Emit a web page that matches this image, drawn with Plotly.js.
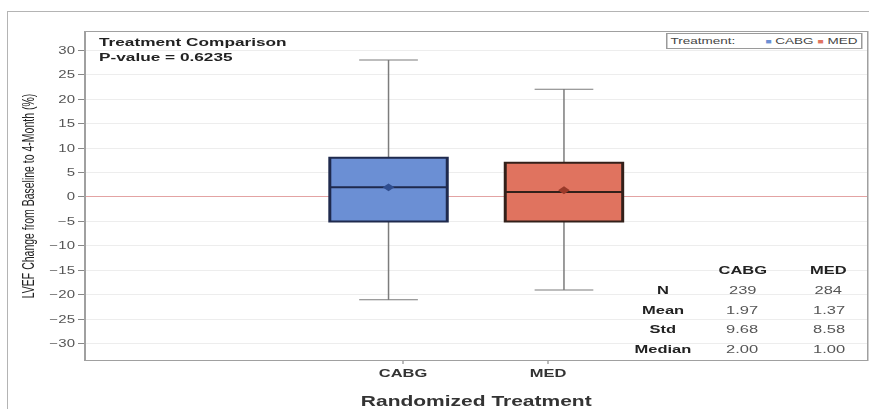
<!DOCTYPE html>
<html>
<head>
<meta charset="utf-8">
<script src="https://cdn.plot.ly/plotly-3.0.1.min.js"></script>
<style>
  html, body { margin: 0; padding: 0; background: #ffffff; overflow: hidden; width: 869px; height: 409px; }
  #frame { position: absolute; left: 7px; top: 11px; width: 900px; height: 430px; border: 1px solid #b4b4b4; z-index: 0; }
  #chart { position: absolute; left: 0; top: 0; width: 579px; height: 409px; transform: scaleX(1.5); transform-origin: 0 0; z-index: 1; }
</style>
</head>
<body>
<div id="frame"></div>
<div id="chart"></div>
<script>
// LVEF change from baseline to 4 months, by randomized treatment
const treatments    = ['CABG', 'MED'];
const nPatients     = [239, 284];
const meanChange    = [1.97, 1.37];
const stdChange     = [9.68, 8.58];
const medianChange  = [2.00, 1.00];
const q1Change      = [-5, -5];
const q3Change      = [8, 7];
const lowerWhisker  = [-21, -19];
const upperWhisker  = [28, 22];
const statLabels    = ['N', 'Mean', 'Std', 'Median'];
const pValue        = 0.6235;

// styling
const fillColors  = ['#6b8fd4', '#e0735f'];
const edgeColors  = ['#1f2a4d', '#33201a'];
const meanColors  = ['#2f4d8e', '#9a3a2a'];
const clusterOffset = [-0.1, 0.11];
const FONT = 'Liberation Sans, Arial, sans-serif';

// drawing is done narrow and stretched horizontally by the page CSS
const W = 579, H = 409;
const M = { l: 57, r: 1, t: 32, b: 49 };
const plotW = W - M.l - M.r;
const plotH = H - M.t - M.b;
const paperX = x => (x - M.l) / plotW;
const paperY = y => (H - M.b - y) / plotH;

const traces = [];
treatments.forEach((t, i) => {
  const xPos = i + clusterOffset[i];
  // whiskers and caps
  traces.push({
    type: 'box', x: [xPos],
    q1: [q1Change[i]], median: [medianChange[i]], q3: [q3Change[i]],
    lowerfence: [lowerWhisker[i]], upperfence: [upperWhisker[i]],
    width: 0.81, whiskerwidth: 0.5,
    line: { color: '#7c7c7c', width: 1 },
    fillcolor: 'rgba(0,0,0,0)',
    boxpoints: false, showlegend: false, hoverinfo: 'skip'
  });
  // filled interquartile box with median
  traces.push({
    type: 'box', x: [xPos],
    q1: [q1Change[i]], median: [medianChange[i]], q3: [q3Change[i]],
    lowerfence: [q1Change[i]], upperfence: [q3Change[i]],
    width: 0.81, whiskerwidth: 0,
    line: { color: edgeColors[i], width: 2 },
    fillcolor: fillColors[i],
    boxpoints: false, showlegend: false, hoverinfo: 'skip', name: t
  });
  // mean marker
  traces.push({
    type: 'scatter', mode: 'markers', x: [xPos], y: [meanChange[i]],
    marker: { symbol: 'diamond', size: 6, color: meanColors[i] },
    showlegend: false, hoverinfo: 'skip'
  });
});

// statistics table in the lower right corner
const colX = [442, 494.5, 552];
const rowY0 = 270, rowStep = 19.8;
const annotations = [];
const cell = (text, cx, ry, bold, color) => annotations.push({
  xref: 'paper', yref: 'paper', x: paperX(cx), y: paperY(ry),
  xanchor: 'center', yanchor: 'middle', showarrow: false, text: text,
  font: { family: FONT, size: 11, color: color, weight: bold ? 'bold' : 'normal' }
});
treatments.forEach((t, c) => cell(t, colX[c + 1], rowY0, true, '#222'));
const statValues = [
  nPatients.map(v => String(v)),
  meanChange.map(v => v.toFixed(2)),
  stdChange.map(v => v.toFixed(2)),
  medianChange.map(v => v.toFixed(2))
];
statLabels.forEach((lab, r) => {
  const y = rowY0 + (r + 1) * rowStep;
  cell(lab, colX[0], y, true, '#222');
  statValues[r].forEach((v, c) => cell(v, colX[c + 1], y, false, '#555'));
});

// inset heading with the p-value
annotations.push({
  xref: 'paper', yref: 'paper', x: paperX(64), y: 1, yshift: -2,
  xanchor: 'left', yanchor: 'top', align: 'left', showarrow: false,
  text: 'Treatment Comparison<br>P-value = ' + pValue.toFixed(4),
  font: { family: FONT, size: 11.5, color: '#222', weight: 'bold' }
});

// legend strip
const sq = c => '<span style="color:' + c + ';font-size:7px">\u25A0</span>';
annotations.push({
  xref: 'paper', yref: 'paper', x: paperX(575), y: paperY(33),
  xanchor: 'right', yanchor: 'top', showarrow: false, align: 'left',
  text: 'Treatment:&nbsp;&nbsp;&nbsp;&nbsp;&nbsp;&nbsp;&nbsp;&nbsp;' +
        treatments.map((t, i) => sq(fillColors[i]) + ' ' + t).join(' '),
  font: { family: FONT, size: 9, color: '#444' },
  bordercolor: '#9a9a9a', borderwidth: 1, borderpad: 2, bgcolor: '#ffffff'
});

const layout = {
  width: W, height: H,
  margin: M,
  paper_bgcolor: 'rgba(0,0,0,0)',
  plot_bgcolor: '#ffffff',
  boxmode: 'overlay',
  showlegend: false,
  font: { family: FONT },
  xaxis: {
    range: [-2.19, 3.2],
    tickvals: treatments.map((t, i) => i),
    ticktext: treatments,
    tickfont: { family: FONT, size: 11, color: '#333', weight: 'bold' },
    ticks: 'outside', ticklen: 3, tickcolor: '#bbbbbb',
    showgrid: false, zeroline: false,
    showline: true, mirror: true, linecolor: '#a0a0a0', linewidth: 1,
    title: { text: 'Randomized Treatment', standoff: 20,
             font: { family: FONT, size: 14, color: '#333', weight: 'bold' } }
  },
  yaxis: {
    range: [-33.3, 33.7],
    tick0: 0, dtick: 5,
    ticks: 'outside', ticklen: 4, tickcolor: '#888888',
    tickfont: { family: FONT, size: 10, color: '#555' },
    showgrid: true, gridcolor: '#ededed', gridwidth: 1,
    zeroline: true, zerolinecolor: '#e3a3a3', zerolinewidth: 1,
    showline: true, mirror: true, linecolor: '#a0a0a0', linewidth: 1,
    title: { text: 'LVEF Change from Baseline to 4-Month (%)', standoff: 7,
             font: { family: FONT, size: 10.5, color: '#222' } }
  },
  annotations: annotations
};

Plotly.newPlot('chart', traces, layout, { displayModeBar: false, staticPlot: true });
</script>
</body>
</html>
